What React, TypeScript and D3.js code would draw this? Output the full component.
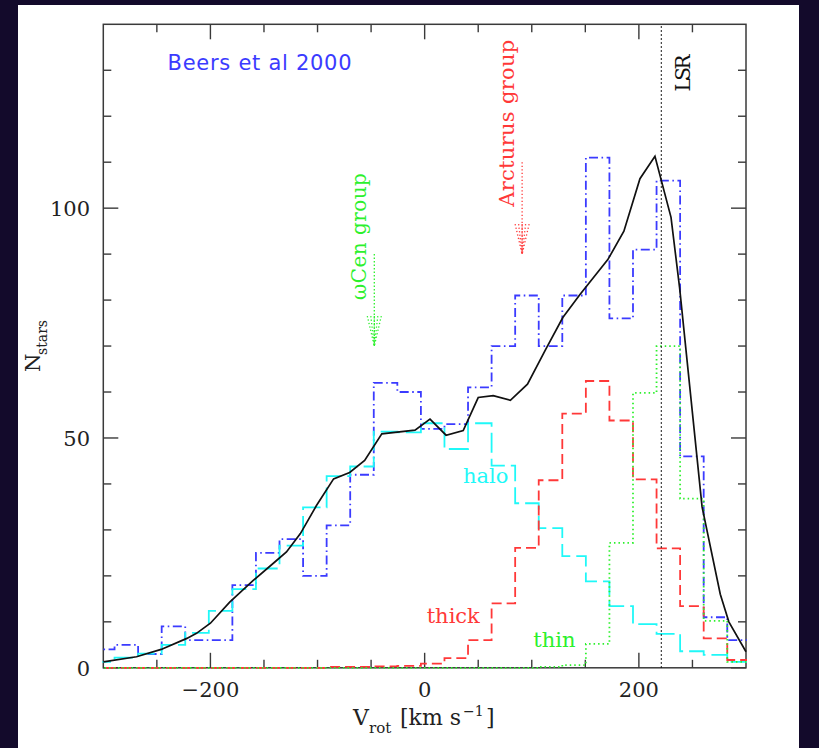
import React from 'react';
import * as d3 from 'd3';

// Histogram bin edges in V_rot (km/s), 22 km/s wide
const binEdges = [
  -311.5, -289.5, -267.5, -245.5, -223.5, -201.5, -179.5, -157.5, -135.5, -113.5,
  -91.5, -69.5, -47.5, -25.5, -3.5, 18.5, 40.5, 62.5, 84.5, 106.5,
  128.5, 150.5, 172.5, 194.5, 216.5, 238.5, 260.5, 282.5, 304.5,
];

// Observed counts (Beers et al 2000)
const beersCounts = [
  4, 5, 3, 9, 6, 6, 18, 25, 28, 20,
  31, 42, 62, 60, 52, 53, 61, 70, 81, 70,
  81, 111, 76, 91, 106, 46, 11, 6,
];

// Model components
const haloCounts = [
  1.3, 2.2, 3.1, 5.0, 7.6, 12.4, 17.1, 21.6, 26.6, 34.9,
  41.7, 43.8, 51.4, 51.2, 53.2, 47.6, 53.2, 44.0, 35.8, 30.4,
  24.3, 18.8, 13.4, 9.5, 7.4, 3.6, 2.8, 1.3,
];
const thickCounts = [
  0, 0, 0, 0, 0, 0, 0, 0, 0, 0,
  0.2, 0.2, 0.3, 0.4, 0.9, 2.1, 6.0, 14.0, 26.1, 40.8,
  55.3, 62.4, 53.8, 41.0, 26.0, 13.4, 6.4, 1.7,
];
const thinCounts = [
  0, 0, 0, 0, 0, 0, 0, 0, 0, 0,
  0, 0, 0, 0, 0, 0, 0, 0, 0, 0.2,
  0.6, 5.2, 27.2, 59.8, 70.0, 36.8, 10.2, 1.3,
];

// Total model curve
const modelV = [
  -300, -269, -246, -222, -213, -200, -182, -160, -138, -129,
  -116, -101, -85, -70, -56, -40, -9, 5, 20, 36,
  50, 64, 80, 96, 113, 129, 145, 171, 186, 201,
  215, 230, 238, 259, 276, 284, 300,
];
const modelN = [
  1.3, 2.4, 4.0, 6.4, 7.5, 9.7, 14.3, 19.0, 23.4, 25.2,
  29.2, 35.3, 41.1, 42.5, 45.1, 50.9, 51.7, 54.1, 50.6, 51.6,
  58.8, 59.2, 58.2, 61.7, 69.3, 76.2, 81.2, 88.8, 95.0, 106.4,
  111.3, 98.0, 82.7, 35.0, 16.0, 10.0, 3.5,
];

const vLSR = 221;

// Axis ticks
const xMajorTicks = [-200, 0, 200];
const xTickLabels = ['\u2212200', '0', '200'];
const xMinorTicks = [-250, -150, -100, -50, 50, 100, 150, 250];
const yMajorTicks = [0, 50, 100];
const yTickLabels = ['0', '50', '100'];
const yMinorTicks = [10, 20, 30, 40, 60, 70, 80, 90, 110, 120, 130];

// Moving-group markers: [V_rot, from N, to N]
const omegaCenArrow = [-47, 90, 70];
const arcturusArrow = [91, 110, 90];

const SERIF = '"DejaVu Serif", "Liberation Serif", serif';
const SANS = '"DejaVu Sans", "Liberation Sans", sans-serif';

const BLUE = '#3b3bff';
const CYAN = '#1ff8f8';
const RED = '#ff3838';
const GREEN = '#2cf02c';
const AXIS = '#3a3a3a';

const x = d3.scaleLinear().domain([-300, 300]).range([103.3, 746]);
const y = d3.scaleLinear().domain([0, 140]).range([667.8, 24.3]);

const line = d3
  .line<[number, number]>()
  .x((d) => x(d[0]))
  .y((d) => y(d[1]));

function stepPath(vals: number[]): string {
  const pts: [number, number][] = [];
  vals.forEach((v, i) => {
    pts.push([binEdges[i], v]);
    pts.push([binEdges[i + 1], v]);
  });
  return line(pts) || '';
}

function Arrow({ spec, color }: { spec: number[]; color: string }) {
  const [v, n0, n1] = spec;
  const px = x(v);
  const top = y(n0);
  const tip = y(n1);
  const headLen = 30;
  const spreads = [-7, -3.5, 0, 3.5, 7];
  return (
    <g stroke={color} strokeWidth={1.3} strokeDasharray="1.3 2.2" fill="none">
      <line x1={px} y1={top} x2={px} y2={tip} />
      {spreads.map((s, i) => (
        <line key={i} x1={px + s} y1={tip - headLen} x2={px} y2={tip} />
      ))}
    </g>
  );
}

export default function App() {
  const [x0, x1] = x.range();
  const [yb, yt] = y.range();
  const model = modelV.map((v, i) => [v, modelN[i]] as [number, number]);

  return (
    <svg
      width={819}
      height={748}
      style={{ position: 'absolute', left: 0, top: 0, display: 'block' }}
    >
      <rect x={0} y={0} width={819} height={748} fill="#130a2b" />
      <rect x={18} y={5} width={781} height={743} fill="#ffffff" />

      <defs>
        <clipPath id="plot-area">
          <rect x={x0 - 1} y={yt} width={x1 - x0 + 2} height={yb - yt + 1.5} />
        </clipPath>
      </defs>

      {/* frame */}
      <rect x={x0} y={yt} width={x1 - x0} height={yb - yt} fill="none" stroke={AXIS} strokeWidth={1.5} />

      {/* x ticks, bottom and top; y ticks, left and right */}
      <g stroke={AXIS} strokeWidth={1.4}>
        {xMajorTicks.map((t) => (
          <g key={'xM' + t}>
            <line x1={x(t)} x2={x(t)} y1={yb} y2={yb - 15} />
            <line x1={x(t)} x2={x(t)} y1={yt} y2={yt + 15} />
          </g>
        ))}
        {xMinorTicks.map((t) => (
          <g key={'xm' + t}>
            <line x1={x(t)} x2={x(t)} y1={yb} y2={yb - 8} />
            <line x1={x(t)} x2={x(t)} y1={yt} y2={yt + 8} />
          </g>
        ))}
        {yMajorTicks.map((t) => (
          <g key={'yM' + t}>
            <line x1={x0} x2={x0 + 15} y1={y(t)} y2={y(t)} />
            <line x1={x1} x2={x1 - 15} y1={y(t)} y2={y(t)} />
          </g>
        ))}
        {yMinorTicks.map((t) => (
          <g key={'ym' + t}>
            <line x1={x0} x2={x0 + 8} y1={y(t)} y2={y(t)} />
            <line x1={x1} x2={x1 - 8} y1={y(t)} y2={y(t)} />
          </g>
        ))}
      </g>

      <g clipPath="url(#plot-area)" fill="none" strokeLinejoin="miter">
        <path d={stepPath(beersCounts)} stroke={BLUE} strokeWidth={1.8} strokeDasharray="9 3.5 1.6 3.5" />
        <path d={stepPath(haloCounts)} stroke={CYAN} strokeWidth={1.8} strokeDasharray="20 6" />
        <path d={stepPath(thickCounts)} stroke={RED} strokeWidth={1.8} strokeDasharray="10 5" />
        <path d={stepPath(thinCounts)} stroke={GREEN} strokeWidth={1.8} strokeDasharray="1.5 3" />
        <path d={line(model) || ''} stroke="#111" strokeWidth={1.7} />
        <line x1={x(vLSR)} x2={x(vLSR)} y1={yb} y2={yt} stroke="#111" strokeWidth={1.3} strokeDasharray="1.5 2.5" />
      </g>

      {/* tick labels */}
      <g fontFamily={SERIF} fontSize={21} fill="#222">
        {xMajorTicks.map((t, i) => (
          <text key={'xl' + t} x={x(t)} y={697} textAnchor="middle">
            {xTickLabels[i]}
          </text>
        ))}
        {yMajorTicks.map((t, i) => (
          <text key={'yl' + t} x={90} y={y(t) + 8} textAnchor="end">
            {yTickLabels[i]}
          </text>
        ))}
      </g>

      {/* axis titles */}
      <g fontFamily={SERIF} fill="#222">
        <text x={353} y={725} fontSize={22}>V</text>
        <text x={369} y={733} fontSize={15}>rot</text>
        <text x={400} y={725} fontSize={22}>[km s</text>
        <text x={463} y={716} fontSize={14}>{'\u22121'}</text>
        <text x={486} y={725} fontSize={22}>]</text>
        <g transform="translate(40,372) rotate(-90)">
          <text x={0} y={0} fontSize={21}>N</text>
          <text x={17} y={7} fontSize={14}>stars</text>
        </g>
      </g>

      {/* arrows for the moving groups */}
      <Arrow spec={omegaCenArrow} color={GREEN} />
      <Arrow spec={arcturusArrow} color={RED} />

      {/* annotations */}
      <text x={x(-240)} y={y(130)} fontFamily={SANS} fontSize={21} fill={BLUE} textLength={184} lengthAdjust="spacing">
        Beers et al 2000
      </text>
      <text transform={`translate(${x(-54.8)},${y(80)}) rotate(-90)`} fontFamily={SERIF} fontSize={20} fill={GREEN} textLength={127} lengthAdjust="spacing">
        {'\u03c9Cen group'}
      </text>
      <text transform={`translate(${x(83.4)},${y(100.3)}) rotate(-90)`} fontFamily={SERIF} fontSize={21} fill={RED} textLength={167} lengthAdjust="spacing">
        Arcturus group
      </text>
      <text transform={`translate(${x(247.7)},${y(125.4)}) rotate(-90)`} fontFamily={SERIF} fontSize={20} fill="#111" textLength={37} lengthAdjust="spacing">
        LSR
      </text>
      <text x={x(35.8)} y={y(40.2)} fontFamily={SERIF} fontSize={21} fill={CYAN}>halo</text>
      <text x={x(1.9)} y={y(9.7)} fontFamily={SERIF} fontSize={21} fill={RED}>thick</text>
      <text x={x(101.4)} y={y(4.6)} fontFamily={SERIF} fontSize={21} fill={GREEN}>thin</text>
    </svg>
  );
}
